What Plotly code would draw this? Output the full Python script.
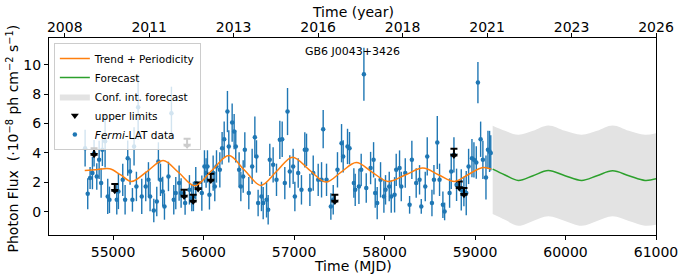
import plotly.graph_objects as go

# ---------------- data ----------------
mjd = [
    54691, 54720, 54746, 54772, 54790, 54820, 54846, 54868, 54882, 54912,
    54941, 54960, 55041, 55059, 55107, 55133, 55162, 55188, 55214, 55232,
    55258, 55277, 55317, 55361, 55391, 55409, 55450, 55483, 55501, 55524,
    55549, 55568, 55612, 55645, 55671, 55693, 55730, 55752, 55796, 55844,
    55870, 55888, 55914, 55981, 56010, 56028,
    56043, 56065, 56106, 56124, 56143, 56180, 56205, 56228, 56264, 56279,
    56316, 56338, 56356, 56393, 56412, 56438, 56456, 56500, 56537, 56567,
    56585, 56603, 56640, 56659, 56696, 56714, 56732, 56769, 56806, 56843,
    56869, 56898, 56928, 56953, 56990, 57009, 57046, 57082, 57119, 57138,
    57175, 57212, 57267, 57304, 57322, 57359, 57407, 57433, 57480, 57525,
    57543, 57591,
    57613, 57661, 57676, 57717, 57742, 57772, 57798, 57846, 57879, 57897,
    57919, 57956, 57993, 58011, 58052, 58074, 58111, 58129, 58166, 58185,
    58229, 58277, 58302, 58350, 58387, 58406, 58450, 58472, 58524, 58546,
    58583, 58608, 58645, 58664, 58719, 58737, 58767, 58796, 58848, 58877,
    58903, 58929, 58966, 58988, 59014, 59032, 59062, 59087, 59121, 59143,
    59161, 59174,
]
flux = [
    4.32, 1.22, 2.29, 2.63, 3.98, 2.40, 3.53, 1.95, 4.21, 4.80,
    1.04, 0.81, 0.81, 1.38, 2.17, 0.81, 3.64, 2.74, 0.81, 4.44,
    1.72, 7.10, 1.04, 1.72, 2.17, 1.04, 0.09, 0.70, 3.42, 2.17,
    1.38, 0.36, 2.40, 6.70, 0.81, 1.27, 1.95, 1.27, 0.59, 1.49,
    0.93, 1.04, 1.95, 1.27, 3.08, 2.63,
    3.08, 1.15, 2.63, 1.72, 3.08, 2.85, 4.32, 4.93, 6.81, 4.44,
    6.06, 5.45, 4.44, 2.85, 1.72, 2.40, 4.21, 1.27, 3.08, 5.07,
    3.76, 0.59, 1.04, 0.59, 0.81, 0.14, 3.53, 3.19, 2.17, 4.89,
    4.93, 1.95, 6.81, 2.74, 3.08, 1.04, 2.63, 1.49, 4.21, 4.21,
    1.49, 2.63, 2.17, 2.17, 5.61, 2.17, 0.36, 0.81, 2.85, 4.66,
    3.76, 4.44,
    4.32, 1.95, 1.49, 1.72, 2.85, 9.35, 1.61, 2.97, 3.53, 1.27,
    0.59, 2.17, 1.04, 1.49, 1.72, 1.04, 1.15, 2.85, 2.97, 1.72,
    2.63, 0.47, 3.53, 1.95, 2.17, 0.36, 1.72, 3.76, 0.59, 2.17,
    4.71, 2.17, 0.47, 0.02, 1.27, 2.74, 3.87, 1.83, 1.49, 1.38,
    1.27, 3.08, 3.64, 3.53, 3.35, 8.78, 4.93, 3.53, 2.33, 4.21,
    4.10, 4.00,
]
flux_err = [
    1.25, 1.05, 0.75, 1.10, 0.90, 0.90, 1.30, 1.00, 1.10, 1.80,
    1.20, 0.90, 1.00, 1.20, 1.10, 1.00, 1.20, 0.90, 0.80, 1.30,
    1.00, 2.20, 1.20, 1.00, 1.20, 1.00, 0.80, 1.00, 1.30, 1.10,
    1.00, 0.90, 1.00, 1.80, 1.00, 1.10, 1.20, 1.00, 0.80, 1.00,
    0.90, 1.00, 1.10, 1.20, 1.10, 1.00,
    1.10, 1.00, 1.20, 1.00, 1.10, 1.20, 1.10, 1.20, 1.40, 1.10,
    1.30, 1.20, 1.10, 1.20, 1.00, 1.10, 1.20, 1.10, 1.20, 1.40,
    1.10, 0.90, 1.00, 1.10, 1.20, 1.00, 1.10, 1.20, 1.10, 1.30,
    1.20, 1.10, 1.60, 1.10, 1.20, 1.00, 1.00, 1.00, 1.20, 1.10,
    1.10, 1.20, 1.10, 1.20, 1.30, 1.10, 0.90, 1.00, 1.20, 1.30,
    1.10, 1.20,
    1.10, 1.00, 1.10, 1.20, 1.10, 1.80, 1.00, 1.10, 1.20, 1.00,
    1.10, 1.20, 1.10, 1.00, 1.00, 1.10, 1.20, 1.10, 1.20, 1.00,
    1.00, 0.60, 1.30, 1.00, 1.00, 0.50, 1.00, 1.30, 0.90, 1.00,
    1.80, 1.10, 0.90, 0.60, 1.00, 1.20, 1.20, 1.10, 1.40, 1.00,
    1.50, 1.20, 1.30, 1.20, 1.10, 1.40, 1.20, 1.30, 1.50, 1.30,
    1.40, 1.20,
]

ul_mjd = [54790, 55019, 55785, 55818, 55885, 55940, 56080, 57451, 58767, 58826, 58878]
ul_flux = [4.32, 1.88, 1.49, 4.96, 1.15, 1.99, 2.58, 1.15, 4.28, 2.06, 1.61]
ul_arrow = 0.45

trend_mjd = [54687, 54830, 54964, 55085, 55203, 55378, 55553, 55728, 55903, 56091,
             56279, 56456, 56633, 56808, 56983, 57168, 57352, 57520, 57687, 57862,
             58037, 58230, 58424, 58600, 58775, 58930, 59087, 59181]
trend_flux = [2.80, 2.88, 2.92, 2.50, 2.06, 2.75, 3.48, 2.65, 1.77, 2.80,
              3.82, 2.80, 1.79, 2.75, 3.71, 2.85, 2.02, 2.70, 3.35, 2.70,
              2.06, 2.50, 2.97, 2.50, 2.06, 2.55, 3.01, 2.90]

fc_mjd = [59195, 59331, 59478, 59641, 59809, 59994, 60179, 60348, 60521, 60700, 60879, 61000]
fc_flux = [2.90, 2.50, 2.13, 2.45, 2.80, 2.45, 2.13, 2.45, 2.78, 2.45, 2.13, 2.24]
fc_upper = [5.84, 5.50, 5.23, 5.50, 5.86, 5.50, 5.23, 5.50, 5.86, 5.50, 5.23, 5.34]
fc_lower = [-0.16, -0.55, -0.95, -0.62, -0.30, -0.62, -0.95, -0.62, -0.30, -0.62, -0.95, -0.88]

x_ticks = [55000, 56000, 57000, 58000, 59000, 60000, 61000]
year_tick_mjd = [54466, 55399.4, 56332.9, 57266.3, 58199.7, 59133.1, 60066.6, 61000]
year_tick_text = ["2008", "2011", "2013", "2016", "2018", "2021", "2023", "2026"]
y_ticks = [0, 2, 4, 6, 8, 10]
x_range = [54292, 61000]
y_range = [-1.58, 11.81]

BLUE = "#1f77b4"
ORANGE = "#ff7f0e"
GREEN = "#2ca02c"
FONT = "DejaVu Sans"

fig = go.Figure()

# confidence band
fig.add_trace(go.Scatter(x=fc_mjd, y=fc_lower, mode="lines", line=dict(width=0, shape="spline", color="#e3e3e3"),
                         showlegend=False, hoverinfo="skip"))
fig.add_trace(go.Scatter(x=fc_mjd, y=fc_upper, mode="lines", fill="tonexty", fillcolor="#e3e3e3",
                         line=dict(width=0, shape="spline", color="#e3e3e3"),
                         name="Conf. int. forecast", legendrank=3))

# data
fig.add_trace(go.Scatter(x=mjd, y=flux, mode="markers",
                         marker=dict(color=BLUE, size=4.5),
                         error_y=dict(type="data", array=flux_err, color=BLUE, thickness=1.4, width=0),
                         name="<i>Fermi</i>-LAT data", legendrank=5))

# upper limits
fig.add_trace(go.Scatter(x=ul_mjd, y=[v - ul_arrow for v in ul_flux], mode="markers",
                         marker=dict(color="black", size=7, symbol="triangle-down"),
                         error_y=dict(type="data", symmetric=False, array=[ul_arrow] * len(ul_flux),
                                      arrayminus=[0] * len(ul_flux), color="black", thickness=2, width=3.5),
                         name="upper limits", legendrank=4))

# trend + forecast
fig.add_trace(go.Scatter(x=trend_mjd, y=trend_flux, mode="lines",
                         line=dict(color=ORANGE, width=1.5, shape="spline"),
                         name="Trend + Periodicity", legendrank=1))
fig.add_trace(go.Scatter(x=fc_mjd, y=fc_flux, mode="lines",
                         line=dict(color=GREEN, width=1.5, shape="spline"),
                         name="Forecast", legendrank=2))

# dummy trace for the top (year) axis
fig.add_trace(go.Scatter(x=year_tick_mjd, y=[None] * len(year_tick_mjd), xaxis="x2",
                         showlegend=False, hoverinfo="skip"))

axis_common = dict(showgrid=False, zeroline=False, showline=True, linecolor="black", linewidth=1,
                   ticks="outside", ticklen=4, tickwidth=1, tickcolor="black", automargin=False,
                   tickfont=dict(size=14, color="black", family=FONT))

fig.update_layout(
    width=684, height=277,
    margin=dict(l=49, r=28, t=38, b=42, autoexpand=False),
    plot_bgcolor="white", paper_bgcolor="white",
    font=dict(family=FONT, color="black"),
    xaxis=dict(range=x_range, tickvals=x_ticks, ticktext=[str(v) for v in x_ticks], **axis_common),
    xaxis2=dict(range=x_range, overlaying="x", side="top", anchor="y",
                tickvals=year_tick_mjd, ticktext=year_tick_text, ticklabelstandoff=-5, **axis_common),
    yaxis=dict(range=y_range, tickvals=y_ticks, mirror=True, **axis_common),
    legend=dict(x=0.008, y=0.975, xanchor="left", yanchor="top",
                bgcolor="rgba(255,255,255,0.8)", bordercolor="#cccccc", borderwidth=1,
                font=dict(size=10.5, family=FONT, color="black"), traceorder="normal"),
    annotations=[
        dict(text="GB6 J0043+3426", x=0.5, y=0.975, xref="paper", yref="paper",
             xanchor="center", yanchor="top", showarrow=False,
             font=dict(size=11, family=FONT, color="black")),
        dict(text="Time (year)", x=0.5, y=1.132, xref="paper", yref="paper",
             xanchor="center", yanchor="middle", showarrow=False,
             font=dict(size=14, family=FONT, color="black")),
        dict(text="Time (MJD)", x=0.5, y=-0.155, xref="paper", yref="paper",
             xanchor="center", yanchor="middle", showarrow=False,
             font=dict(size=14, family=FONT, color="black")),
        dict(text="Photon Flux  (·10<sup>−8</sup> ph cm<sup>−2</sup> s<sup>−1</sup>)",
             x=-0.0593, y=0.49, xref="paper", yref="paper", textangle=-90,
             xanchor="center", yanchor="middle", showarrow=False,
             font=dict(size=14, family=FONT, color="black")),
    ],
    showlegend=True,
)

# remove the browser's default 8 px body margin so the figure starts at the page corner
fig.write_html("out.html", config={"displayModeBar": False},
               post_script="document.body.style.margin='0';document.body.style.overflow='hidden';")
